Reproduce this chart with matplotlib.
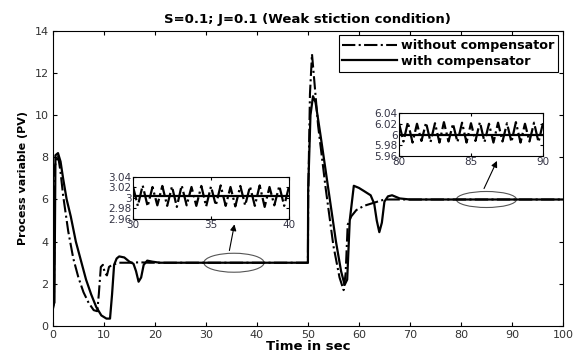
import numpy as np
import matplotlib.pyplot as plt
from matplotlib.patches import Ellipse

plt.rcParams['font.family'] = ['DejaVu Sans']

# Process variable
t_without = [0, 0.2, 0.4, 1.0, 1.5, 2.0, 3.0, 4.0, 5.0, 6.0, 7.0, 8.0, 8.7, 9.0, 9.4,
             9.8, 10.2, 10.6, 11.0, 11.6, 13, 15, 17, 19, 21, 50, 50.05, 50.4, 50.8,
             51.3, 52, 53.5, 55, 56.2, 57.0, 57.4, 57.8, 58.5, 59.5, 61, 63, 65, 100]
v_without = [0.8, 1.0, 7.6, 8.1, 7.3, 6.2, 4.5, 3.2, 2.3, 1.6, 1.1, 0.75, 0.7, 1.5, 2.8,
             2.9, 2.5, 2.4, 2.8, 2.9, 3.0, 3.0, 3.02, 3.0, 3.0, 3.0, 6.0, 11.0, 12.9,
             11.5, 9.5, 6.5, 3.8, 2.3, 1.7, 2.5, 4.8, 5.2, 5.5, 5.7, 5.85, 6.0, 6.0]

t_with = [0, 0.3, 0.5, 1.0, 1.5, 2.0, 2.7, 3.5, 4.5, 5.5, 6.5, 7.5, 8.5, 9.5, 10.5,
          11.2, 11.6, 12.0, 12.5, 13.0, 14.0, 15.0, 15.8, 16.3, 16.8, 17.3, 17.8, 18.5,
          19.5, 21, 50, 50.05, 50.5, 51.0, 51.5, 52.5, 54, 55.5, 56.5, 57.2, 57.7, 58.2,
          59.0, 60, 61, 62.3, 63.0, 63.5, 64.0, 64.5, 65.0, 65.7, 66.5, 68, 70, 100]
v_with = [1.0, 1.1, 8.1, 8.2, 7.8, 7.0, 6.0, 5.2, 4.0, 3.1, 2.2, 1.5, 0.9, 0.5, 0.35,
          0.35, 1.5, 2.9, 3.2, 3.3, 3.25, 3.05, 2.95, 2.6, 2.1, 2.3, 2.9, 3.1,
          3.05, 3.0, 3.0, 6.45, 10.0, 10.9, 10.6, 9.0, 6.5, 4.0, 2.6, 1.95, 2.2, 5.0,
          6.65, 6.55, 6.4, 6.2, 5.8, 5.0, 4.45, 4.9, 5.9, 6.15, 6.2, 6.05, 6.0, 6.0]

# zoomed steady-state windows
t_in1 = [30.0, 30.31, 30.62, 30.94, 31.25, 31.56, 31.88, 32.19, 32.5, 32.81, 33.12,
         33.44, 33.75, 34.06, 34.38, 34.69, 35.0, 35.31, 35.62, 35.94, 36.25, 36.56,
         36.88, 37.19, 37.5, 37.81, 38.12, 38.44, 38.75, 39.06, 39.38, 39.69, 40.0]
v_in1 = [3.022, 2.985, 3.024, 2.984, 3.021, 2.986, 3.023, 2.985, 3.022, 2.983, 3.024,
         2.986, 3.021, 2.985, 3.023, 2.984, 3.022, 2.986, 3.024, 2.985, 3.021, 2.984,
         3.023, 2.986, 3.022, 2.985, 3.024, 2.983, 3.021, 2.986, 3.023, 2.985, 3.022]
t_in2 = [80.0, 80.31, 80.62, 80.94, 81.25, 81.56, 81.88, 82.19, 82.5, 82.81, 83.12,
         83.44, 83.75, 84.06, 84.38, 84.69, 85.0, 85.31, 85.62, 85.94, 86.25, 86.56,
         86.88, 87.19, 87.5, 87.81, 88.12, 88.44, 88.75, 89.06, 89.38, 89.69, 90.0]
v_in2 = [6.021, 5.987, 6.023, 5.985, 6.020, 5.988, 6.022, 5.986, 6.021, 5.985, 6.023,
         5.987, 6.020, 5.986, 6.022, 5.985, 6.021, 5.988, 6.023, 5.986, 6.020, 5.985,
         6.022, 5.987, 6.021, 5.986, 6.023, 5.985, 6.020, 5.987, 6.022, 5.986, 6.021]
t_in1_with = [30, 40]
v_in1_with = [3.003, 3.003]
t_in2_with = [80, 90]
v_in2_with = [6.0, 6.0]

fig = plt.figure(figsize=(5.75, 3.63), dpi=100)
ax = fig.add_axes([0.092, 0.102, 0.887, 0.813])
ax.plot(t_without, v_without, color='black', ls='-.', lw=1.5, label='without compensator')
ax.plot(t_with, v_with, color='black', ls='-', lw=1.6, label='with compensator')
ax.set_xlim(0, 100)
ax.set_ylim(0, 14)
ax.set_xticks(np.arange(0, 101, 10))
ax.set_yticks(np.arange(0, 15, 2))
ax.tick_params(direction='in', top=True, right=True, labelsize=8, labelcolor='#333333',
               length=3, pad=3)
for s in ax.spines.values():
    s.set_linewidth(0.8)
ax.set_title('S=0.1; J=0.1 (Weak stiction condition)', fontsize=9.5, fontweight='bold', pad=6)
ax.set_xlabel('Time in sec', fontsize=9.5, fontweight='bold', labelpad=0)
ax.set_ylabel('Process variable (PV)', fontsize=8, fontweight='bold', labelpad=5)

leg = ax.legend(loc='upper right', bbox_to_anchor=(0.99, 0.985), fancybox=False,
                edgecolor='black', framealpha=1, handlelength=4.3, borderpad=0.3,
                labelspacing=0.2, handletextpad=0.25, borderaxespad=0,
                prop={'weight': 'bold', 'size': 9.2})
leg.get_frame().set_linewidth(0.8)

# ellipses marking the zoomed regions
ax.add_patch(Ellipse((35.5, 3.0), 11.8, 0.9, fill=False, ec='#555555', lw=0.8))
ax.add_patch(Ellipse((85.0, 6.0), 11.8, 0.76, fill=False, ec='#555555', lw=0.8))
ax.annotate('', xy=(35.7, 4.95), xytext=(34.5, 3.45),
            arrowprops=dict(arrowstyle='-|>', color='black', lw=0.8, mutation_scale=9))
ax.annotate('', xy=(87.3, 7.95), xytext=(84.3, 6.4),
            arrowprops=dict(arrowstyle='-|>', color='black', lw=0.8, mutation_scale=9))

lab_col = '#333344'
ins1 = fig.add_axes([0.2313, 0.3967, 0.2713, 0.1157])
ins1.plot(t_in1, v_in1, color='black', ls='-.', lw=1.6)
ins1.plot(t_in1_with, v_in1_with, color='black', lw=1.6)
ins1.set_xlim(30, 40)
ins1.set_ylim(2.96, 3.04)
ins1.set_xticks([30, 35, 40])
ins1.set_yticks([2.96, 2.98, 3.0, 3.02, 3.04])
ins1.set_yticklabels(['2.96', '2.98', '3', '3.02', '3.04'])

ins2 = fig.add_axes([0.6939, 0.5702, 0.2504, 0.1185])
ins2.plot(t_in2, v_in2, color='black', ls='-.', lw=1.6)
ins2.plot(t_in2_with, v_in2_with, color='black', lw=1.6)
ins2.set_xlim(80, 90)
ins2.set_ylim(5.96, 6.04)
ins2.set_xticks([80, 85, 90])
ins2.set_yticks([5.96, 5.98, 6.0, 6.02, 6.04])
ins2.set_yticklabels(['5.96', '5.98', '6', '6.02', '6.04'])

for a in (ins1, ins2):
    a.tick_params(direction='in', top=True, right=True, labelsize=7.5, labelcolor=lab_col,
                  length=2, pad=1)
    for s in a.spines.values():
        s.set_linewidth(0.8)

fig.savefig('out.png', dpi=100)
